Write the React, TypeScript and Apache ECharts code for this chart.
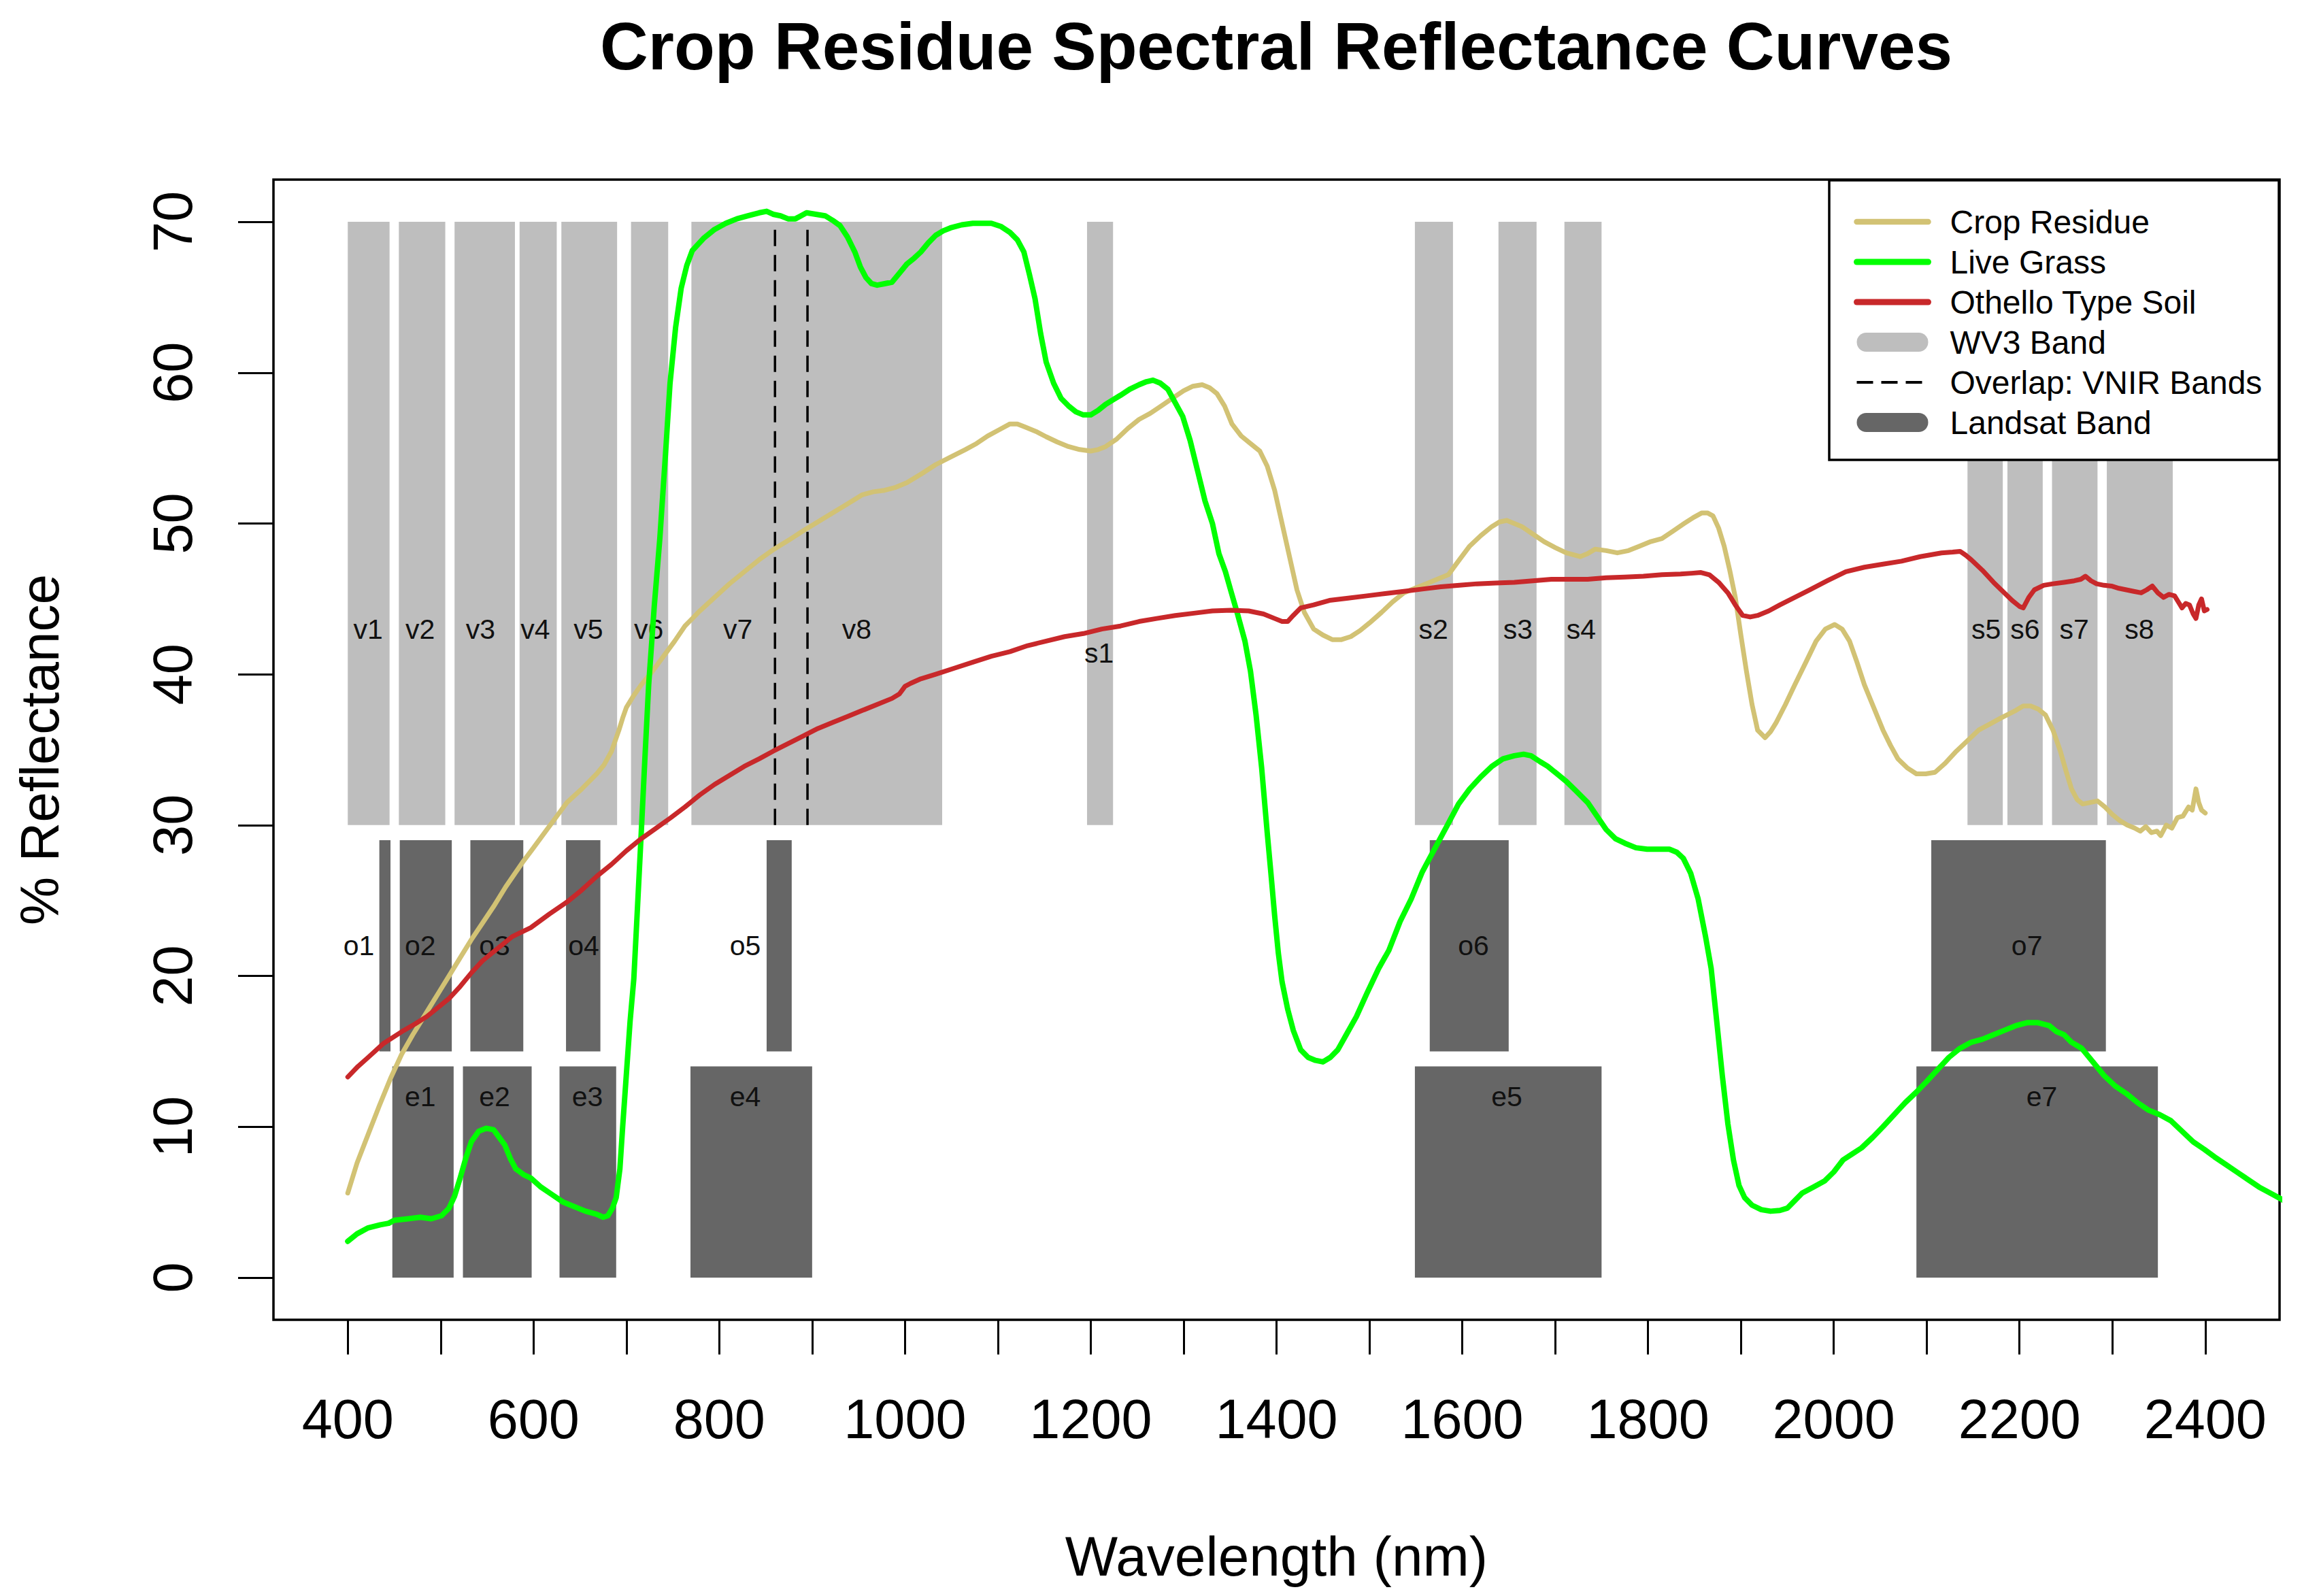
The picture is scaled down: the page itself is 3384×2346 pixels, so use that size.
import React, { useEffect, useRef } from 'react';
import * as echarts from 'echarts';

const FONT = "'Liberation Sans', Arial, Helvetica, sans-serif";

// ---------- axes ----------
const wavelengthTicks = [400, 500, 600, 700, 800, 900, 1000, 1100, 1200, 1300, 1400, 1500, 1600, 1700, 1800, 1900, 2000, 2100, 2200, 2300, 2400];
const wavelengthLabels = [400, 600, 800, 1000, 1200, 1400, 1600, 1800, 2000, 2200, 2400];
const reflectanceTicks = [0, 10, 20, 30, 40, 50, 60, 70];

// ---------- spectra [wavelength nm, % reflectance] ----------
const cropResidue = [
  [400, 5.6], [410, 7.6], [422, 9.5], [434, 11.4], [446, 13.2], [458, 14.8], [470, 16.1], [480, 17.1], [490, 18.1], [500, 19.1],
  [509, 20.0], [521, 21.2], [533, 22.4], [545, 23.5], [557, 24.6], [570, 25.9], [589, 27.6], [600, 28.5], [612, 29.5], [624, 30.5],
  [636, 31.5], [652, 32.4], [668, 33.4], [676, 34.0], [684, 34.9], [688, 35.6], [692, 36.3], [696, 37.1], [700, 37.8], [708, 38.6],
  [716, 39.3], [728, 40.2], [740, 41.2], [752, 42.2], [763, 43.2], [779, 44.2], [795, 45.1], [811, 46.0], [827, 46.8], [843, 47.6],
  [859, 48.3], [875, 48.9], [890, 49.5], [906, 50.1], [922, 50.7], [938, 51.3], [954, 51.9], [966, 52.1], [978, 52.2], [990, 52.4],
  [1002, 52.7], [1018, 53.3], [1033, 53.9], [1049, 54.4], [1065, 54.9], [1077, 55.3], [1089, 55.8], [1101, 56.2], [1113, 56.6], [1121, 56.6],
  [1129, 56.4], [1141, 56.1], [1152, 55.75], [1164, 55.4], [1176, 55.1], [1188, 54.9], [1200, 54.8], [1208, 54.9], [1216, 55.1], [1228, 55.6],
  [1240, 56.3], [1252, 56.9], [1264, 57.3], [1276, 57.8], [1288, 58.3], [1300, 58.8], [1310, 59.1], [1320, 59.2], [1328, 59.0], [1336, 58.6],
  [1344, 57.8], [1352, 56.6], [1362, 55.8], [1372, 55.3], [1382, 54.8], [1390, 53.8], [1398, 52.2], [1406, 50.0], [1414, 47.8], [1422, 45.6],
  [1430, 44.1], [1440, 43.0], [1450, 42.6], [1460, 42.3], [1470, 42.3], [1480, 42.5], [1490, 42.9], [1500, 43.4], [1513, 44.1], [1525, 44.8],
  [1537, 45.4], [1549, 45.7], [1561, 46.0], [1573, 46.3], [1585, 46.6], [1597, 47.6], [1608, 48.5], [1620, 49.2], [1632, 49.8], [1640, 50.1],
  [1648, 50.2], [1656, 50.0], [1664, 49.8], [1676, 49.3], [1688, 48.8], [1700, 48.4], [1712, 48.05], [1727, 47.8], [1735, 48.0], [1743, 48.3],
  [1755, 48.2], [1767, 48.05], [1779, 48.2], [1791, 48.5], [1803, 48.8], [1815, 49.0], [1827, 49.5], [1839, 50.0], [1849, 50.4], [1858, 50.7],
  [1864, 50.7], [1870, 50.5], [1876, 49.7], [1882, 48.5], [1888, 46.9], [1894, 45.1], [1900, 42.6], [1906, 40.2], [1912, 38.0], [1918, 36.3],
  [1926, 35.8], [1932, 36.2], [1938, 36.8], [1948, 38.0], [1958, 39.3], [1970, 40.8], [1981, 42.2], [1991, 43.0], [2001, 43.3], [2009, 43.0],
  [2017, 42.2], [2025, 40.8], [2033, 39.3], [2043, 37.8], [2053, 36.3], [2061, 35.3], [2069, 34.4], [2079, 33.8], [2089, 33.4], [2099, 33.4],
  [2109, 33.5], [2120, 34.1], [2132, 34.9], [2144, 35.6], [2156, 36.3], [2168, 36.7], [2180, 37.1], [2196, 37.6], [2204, 37.9], [2212, 37.9],
  [2220, 37.7], [2228, 37.3], [2236, 36.3], [2244, 34.9], [2250, 33.6], [2256, 32.4], [2262, 31.7], [2268, 31.4], [2276, 31.5], [2284, 31.6],
  [2292, 31.2], [2300, 30.7], [2308, 30.3], [2316, 30.0], [2324, 29.8], [2330, 29.6], [2336, 29.9], [2342, 29.5], [2348, 29.6], [2352, 29.3],
  [2358, 30.0], [2364, 29.8], [2370, 30.5], [2376, 30.6], [2382, 31.2], [2386, 31.0], [2390, 32.4], [2393, 31.5], [2396, 31.0], [2400, 30.8],
];

const liveGrass = [
  [400, 2.4], [410, 2.9], [422, 3.3], [435, 3.5], [444, 3.6], [450, 3.8], [465, 3.9], [478, 4.0], [490, 3.9], [501, 4.1],
  [509, 4.6], [515, 5.4], [521, 6.6], [527, 7.9], [533, 9.0], [541, 9.7], [549, 9.9], [557, 9.8], [563, 9.3], [569, 8.8],
  [575, 7.9], [581, 7.2], [590, 6.8], [597, 6.6], [608, 6.0], [620, 5.5], [632, 5.0], [644, 4.7], [656, 4.4], [668, 4.2],
  [675, 4.0], [680, 4.1], [685, 4.6], [689, 5.3], [693, 7.2], [696, 10.0], [700, 13.5], [704, 17.0], [708, 19.8], [712, 24.6],
  [716, 29.5], [720, 34.5], [724, 39.3], [730, 44.5], [736, 49.0], [742, 54.5], [747, 59.3], [753, 63.0], [759, 65.6], [765, 67.1],
  [771, 68.1], [783, 68.9], [795, 69.5], [807, 69.9], [819, 70.2], [831, 70.4], [843, 70.6], [851, 70.7], [858, 70.5], [866, 70.4],
  [874, 70.2], [882, 70.2], [888, 70.4], [894, 70.6], [904, 70.5], [914, 70.4], [922, 70.1], [930, 69.75], [938, 69.0], [946, 68.0],
  [952, 67.0], [958, 66.3], [964, 65.9], [970, 65.8], [978, 65.9], [986, 66.0], [994, 66.6], [1002, 67.2], [1010, 67.6], [1017, 68.0],
  [1025, 68.6], [1033, 69.1], [1041, 69.4], [1049, 69.6], [1061, 69.8], [1073, 69.9], [1083, 69.9], [1093, 69.9], [1103, 69.7], [1113, 69.3],
  [1121, 68.8], [1128, 68.0], [1134, 66.5], [1140, 64.9], [1146, 62.6], [1152, 60.7], [1160, 59.3], [1168, 58.3], [1176, 57.8], [1184, 57.4],
  [1192, 57.2], [1200, 57.2], [1208, 57.5], [1216, 57.9], [1224, 58.2], [1232, 58.5], [1242, 58.9], [1252, 59.2], [1260, 59.4], [1267, 59.5],
  [1275, 59.3], [1283, 58.9], [1291, 58.0], [1299, 57.1], [1307, 55.5], [1315, 53.5], [1323, 51.5], [1331, 50.0], [1338, 48.0], [1345, 46.8],
  [1351, 45.5], [1358, 44.0], [1366, 42.2], [1372, 40.2], [1378, 37.3], [1384, 33.8], [1390, 29.5], [1394, 26.8], [1398, 24.0], [1402, 21.5],
  [1406, 19.6], [1412, 17.8], [1418, 16.4], [1426, 15.1], [1434, 14.6], [1442, 14.4], [1450, 14.3], [1458, 14.6], [1466, 15.1], [1476, 16.2],
  [1486, 17.3], [1497, 18.8], [1510, 20.5], [1521, 21.7], [1533, 23.6], [1545, 25.1], [1557, 26.9], [1570, 28.4], [1584, 30.0], [1596, 31.4],
  [1608, 32.4], [1620, 33.2], [1632, 33.9], [1644, 34.4], [1656, 34.6], [1666, 34.7], [1674, 34.6], [1684, 34.2], [1692, 33.9], [1702, 33.4],
  [1712, 32.9], [1722, 32.3], [1735, 31.5], [1745, 30.6], [1755, 29.7], [1765, 29.1], [1775, 28.8], [1787, 28.5], [1799, 28.4], [1811, 28.4],
  [1823, 28.4], [1831, 28.2], [1838, 27.8], [1846, 26.8], [1854, 25.1], [1862, 22.6], [1868, 20.5], [1874, 17.0], [1880, 13.4], [1886, 10.2],
  [1892, 7.8], [1898, 6.1], [1904, 5.3], [1912, 4.8], [1922, 4.5], [1932, 4.4], [1942, 4.45], [1950, 4.6], [1958, 5.1], [1966, 5.6],
  [1978, 6.0], [1990, 6.4], [2000, 7.0], [2010, 7.8], [2020, 8.2], [2030, 8.6], [2042, 9.3], [2053, 10.0], [2065, 10.8], [2077, 11.6],
  [2089, 12.3], [2100, 13.0], [2112, 13.8], [2124, 14.6], [2136, 15.2], [2148, 15.6], [2160, 15.8], [2172, 16.1], [2184, 16.4], [2196, 16.7],
  [2208, 16.9], [2220, 16.9], [2232, 16.7], [2240, 16.3], [2248, 16.1], [2256, 15.6], [2267, 15.2], [2279, 14.3], [2291, 13.4], [2303, 12.7],
  [2315, 12.2], [2327, 11.6], [2339, 11.1], [2351, 10.8], [2363, 10.4], [2375, 9.7], [2387, 9.0], [2399, 8.5], [2410, 8.0], [2422, 7.5],
  [2434, 7.0], [2446, 6.5], [2458, 6.0], [2470, 5.6], [2482, 5.2], [2500, 4.5],
];

const othelloSoil = [
  [400, 13.3], [411, 14.0], [422, 14.6], [438, 15.5], [458, 16.3], [472, 16.8], [485, 17.3], [497, 17.9], [509, 18.5], [521, 19.3],
  [533, 20.2], [545, 21.0], [557, 21.6], [577, 22.6], [597, 23.2], [617, 24.1], [636, 24.9], [652, 25.7], [668, 26.6], [684, 27.4],
  [700, 28.3], [716, 29.1], [732, 29.8], [748, 30.5], [763, 31.2], [779, 32.0], [795, 32.7], [811, 33.3], [827, 33.9], [843, 34.4],
  [858, 34.9], [874, 35.4], [890, 35.9], [906, 36.4], [922, 36.8], [938, 37.2], [954, 37.6], [970, 38.0], [986, 38.4], [994, 38.7],
  [1000, 39.2], [1006, 39.4], [1017, 39.7], [1033, 40.0], [1053, 40.4], [1073, 40.8], [1093, 41.2], [1113, 41.5], [1132, 41.9], [1152, 42.2],
  [1172, 42.5], [1192, 42.7], [1212, 43.0], [1232, 43.2], [1252, 43.5], [1271, 43.7], [1291, 43.9], [1311, 44.05], [1331, 44.2], [1351, 44.25],
  [1370, 44.2], [1386, 44.0], [1398, 43.7], [1406, 43.5], [1412, 43.5], [1418, 43.9], [1426, 44.4], [1440, 44.6], [1457, 44.9], [1477, 45.05],
  [1497, 45.2], [1517, 45.35], [1537, 45.5], [1557, 45.65], [1577, 45.8], [1597, 45.9], [1616, 46.0], [1636, 46.05], [1656, 46.1], [1676, 46.2],
  [1696, 46.3], [1716, 46.3], [1735, 46.3], [1755, 46.4], [1775, 46.45], [1795, 46.5], [1815, 46.6], [1835, 46.65], [1847, 46.7], [1857, 46.75],
  [1866, 46.6], [1876, 46.1], [1886, 45.4], [1894, 44.6], [1902, 43.9], [1910, 43.8], [1918, 43.9], [1930, 44.2], [1942, 44.6], [1958, 45.1],
  [1974, 45.6], [1993, 46.2], [2013, 46.8], [2033, 47.1], [2053, 47.3], [2073, 47.5], [2093, 47.8], [2116, 48.05], [2128, 48.1], [2136, 48.15],
  [2142, 47.9], [2148, 47.6], [2160, 46.9], [2172, 46.1], [2182, 45.5], [2192, 44.9], [2200, 44.5], [2204, 44.4], [2210, 45.1], [2216, 45.6],
  [2226, 45.9], [2236, 46.0], [2248, 46.1], [2259, 46.2], [2266, 46.3], [2271, 46.5], [2277, 46.2], [2283, 46.0], [2291, 45.9], [2299, 45.85],
  [2307, 45.7], [2315, 45.6], [2323, 45.5], [2331, 45.4], [2337, 45.6], [2343, 45.85], [2349, 45.4], [2355, 45.1], [2361, 45.3], [2367, 45.2],
  [2371, 44.8], [2375, 44.4], [2379, 44.7], [2383, 44.6], [2387, 44.0], [2390, 43.7], [2393, 44.6], [2396, 45.0], [2399, 44.2], [2402, 44.3],
];

// ---------- WorldView-3 bands ----------
const wv3Names = ['v1', 'v2', 'v3', 'v4', 'v5', 'v6', 'v7', 'v8', 's1', 's2', 's3', 's4', 's5', 's6', 's7', 's8'];
const wv3Start = [400, 455, 515, 585, 630, 705, 770, 860, 1196, 1549, 1639, 1710, 2144, 2187, 2235, 2294];
const wv3End = [445, 505, 580, 625, 690, 745, 895, 1040, 1224, 1590, 1680, 1750, 2182, 2225, 2284, 2365];
const wv3LabelX = [422, 478, 543, 602, 659, 724, 820, 948, 1209, 1569, 1660, 1728, 2164, 2206, 2259, 2329];
const wv3LabelY = [43, 43, 43, 43, 43, 43, 43, 43, 41.4, 43, 43, 43, 43, 43, 43, 43];
const wv3Range = [30, 70];

// ---------- Landsat OLI bands (o) ----------
const oliNames = ['o1', 'o2', 'o3', 'o4', 'o5', 'o6', 'o7'];
const oliStart = [434, 456, 532, 635, 851, 1565, 2105];
const oliEnd = [446, 512, 589, 672, 878, 1650, 2293];
const oliLabelX = [412, 478, 558, 654, 828, 1612, 2208];
const oliLabelY = 22;
const oliRange = [15, 29];

// ---------- Landsat ETM+ bands (e) ----------
const etmNames = ['e1', 'e2', 'e3', 'e4', 'e5', 'e7'];
const etmStart = [448, 524, 628, 769, 1549, 2089];
const etmEnd = [514, 598, 689, 900, 1750, 2349];
const etmLabelX = [478, 558, 658, 828, 1648, 2224];
const etmLabelY = 12;
const etmRange = [0, 14];

// ---------- VNIR overlap (NIR1 / NIR2) ----------
const overlapX = [860, 895];

const COLORS = {
  crop: '#D2C274',
  grass: '#00FF00',
  soil: '#C8282A',
  wv3: '#BEBEBE',
  landsat: '#666666',
};

const PILL = 'path://M14,0L91,0A14,14,0,0,1,91,28L14,28A14,14,0,0,1,14,0Z';

function buildOption() {
  const wv3Rects = wv3Start.map((s, i) => [s, wv3End[i], wv3Range[0], wv3Range[1]]);
  const landsatRects = [
    ...oliStart.map((s, i) => [s, oliEnd[i], oliRange[0], oliRange[1]]),
    ...etmStart.map((s, i) => [s, etmEnd[i], etmRange[0], etmRange[1]]),
  ];
  const labelItems = [
    ...wv3Names.map((n, i) => ({ name: n, value: [wv3LabelX[i], wv3LabelY[i]] })),
    ...oliNames.map((n, i) => ({ name: n, value: [oliLabelX[i], oliLabelY] })),
    ...etmNames.map((n, i) => ({ name: n, value: [etmLabelX[i], etmLabelY] })),
  ];

  const rectRender = (color: string) => (params: any, api: any) => {
    const a = api.coord([api.value(0), api.value(3)]);
    const b = api.coord([api.value(1), api.value(2)]);
    return {
      type: 'rect',
      shape: { x: a[0], y: a[1], width: b[0] - a[0], height: b[1] - a[1] },
      style: { fill: color },
    };
  };

  const lineSeries = (name: string, data: number[][], color: string, width: number) => ({
    type: 'line',
    name,
    data,
    symbol: 'none',
    showSymbol: false,
    smooth: false,
    clip: true,
    silent: true,
    itemStyle: { color },
    lineStyle: { color, width, cap: 'round', join: 'round' },
    z: 3,
  });

  const overlapSeries = overlapX.map((x) => ({
    type: 'line',
    name: 'Overlap: VNIR Bands',
    data: [[x, wv3Range[0]], [x, wv3Range[1]]],
    symbol: 'none',
    showSymbol: false,
    silent: true,
    itemStyle: { color: '#000' },
    lineStyle: { color: '#000', width: 3.5, type: [24, 13] },
    z: 2,
  }));

  return {
    animation: false,
    backgroundColor: '#ffffff',
    textStyle: { fontFamily: FONT },
    title: {
      text: 'Crop Residue Spectral Reflectance Curves',
      left: 1871,
      top: 14,
      textAlign: 'center',
      textStyle: { fontSize: 98, fontWeight: 'bold', fontFamily: FONT, color: '#000' },
    },
    grid: {
      left: 402,
      top: 264,
      width: 2949,
      height: 1676,
      containLabel: false,
      outerBoundsMode: 'none',
      show: true,
      borderColor: '#000',
      borderWidth: 3.5,
      backgroundColor: 'transparent',
    },
    xAxis: {
      type: 'value',
      min: 320,
      max: 2480,
      name: 'Wavelength (nm)',
      nameLocation: 'middle',
      nameGap: 306,
      nameTextStyle: { fontSize: 82, fontFamily: FONT, color: '#000' },
      axisLine: { show: false, onZero: false },
      splitLine: { show: false },
      axisTick: { show: true, inside: false, length: 51, customValues: wavelengthTicks, lineStyle: { color: '#000', width: 3 } },
      axisLabel: {
        customValues: wavelengthLabels,
        fontSize: 81,
        fontFamily: FONT,
        color: '#000',
        margin: 105,
        formatter: (v: number) => String(v),
      },
    },
    yAxis: {
      type: 'value',
      min: -2.8,
      max: 72.8,
      name: '% Reflectance',
      nameLocation: 'middle',
      nameGap: 304,
      nameTextStyle: { fontSize: 80, fontFamily: FONT, color: '#000' },
      axisLine: { show: false, onZero: false },
      splitLine: { show: false },
      axisTick: { show: true, inside: false, length: 52, customValues: reflectanceTicks, lineStyle: { color: '#000', width: 3 } },
      axisLabel: {
        customValues: reflectanceTicks,
        rotate: 90,
        fontSize: 81,
        fontFamily: FONT,
        color: '#000',
        margin: 108,
        formatter: (v: number) => String(v),
      },
    },
    legend: {
      orient: 'vertical',
      left: 2725,
      top: 302,
      padding: 0,
      itemWidth: 105,
      itemHeight: 28,
      itemGap: 11,
      z: 10,
      selectedMode: false,
      textStyle: { fontSize: 48, fontFamily: FONT, color: '#000', padding: [0, 0, 0, 27] },
      data: [
        { name: 'Crop Residue', itemStyle: { opacity: 0 }, lineStyle: { width: 8.5, color: COLORS.crop, cap: 'round' } },
        { name: 'Live Grass', itemStyle: { opacity: 0 }, lineStyle: { width: 9, color: COLORS.grass, cap: 'round' } },
        { name: 'Othello Type Soil', itemStyle: { opacity: 0 }, lineStyle: { width: 9, color: COLORS.soil, cap: 'round' } },
        { name: 'WV3 Band', icon: PILL, itemStyle: { color: COLORS.wv3 } },
        { name: 'Overlap: VNIR Bands', itemStyle: { opacity: 0 }, lineStyle: { width: 4, color: '#000', type: [24, 12] } },
        { name: 'Landsat Band', icon: PILL, itemStyle: { color: COLORS.landsat } },
      ],
    },
    graphic: {
      elements: [
        {
          type: 'rect',
          z: 5,
          silent: true,
          shape: { x: 2689, y: 265, width: 661, height: 411 },
          style: { fill: '#ffffff', stroke: '#000000', lineWidth: 3.5 },
        },
      ],
    },
    series: [
      {
        type: 'custom',
        name: 'WV3 Band',
        data: wv3Rects,
        itemStyle: { color: COLORS.wv3 },
        renderItem: rectRender(COLORS.wv3),
        silent: true,
        z: 1,
      },
      {
        type: 'custom',
        name: 'Landsat Band',
        data: landsatRects,
        itemStyle: { color: COLORS.landsat },
        renderItem: rectRender(COLORS.landsat),
        silent: true,
        z: 1,
      },
      ...overlapSeries,
      {
        type: 'custom',
        name: 'Band labels',
        data: labelItems,
        silent: true,
        z: 2,
        renderItem: (params: any, api: any) => {
          const p = api.coord([api.value(0), api.value(1)]);
          return {
            type: 'text',
            x: p[0],
            y: p[1],
            style: {
              text: labelItems[params.dataIndex].name,
              fill: '#111111',
              fontSize: 41,
              fontFamily: FONT,
              align: 'center',
              verticalAlign: 'middle',
            },
          };
        },
      },
      lineSeries('Crop Residue', cropResidue, COLORS.crop, 7),
      lineSeries('Live Grass', liveGrass, COLORS.grass, 8),
      lineSeries('Othello Type Soil', othelloSoil, COLORS.soil, 7),
    ],
  };
}

export default function App() {
  const ref = useRef<HTMLDivElement>(null);
  useEffect(() => {
    if (!ref.current) return;
    const chart = echarts.init(ref.current, null, { renderer: 'svg' });
    chart.setOption(buildOption() as any);
    return () => chart.dispose();
  }, []);
  return (
    <div
      ref={ref}
      style={{ position: 'absolute', left: 0, top: 0, width: 3384, height: 2346, background: '#fff' }}
    />
  );
}
